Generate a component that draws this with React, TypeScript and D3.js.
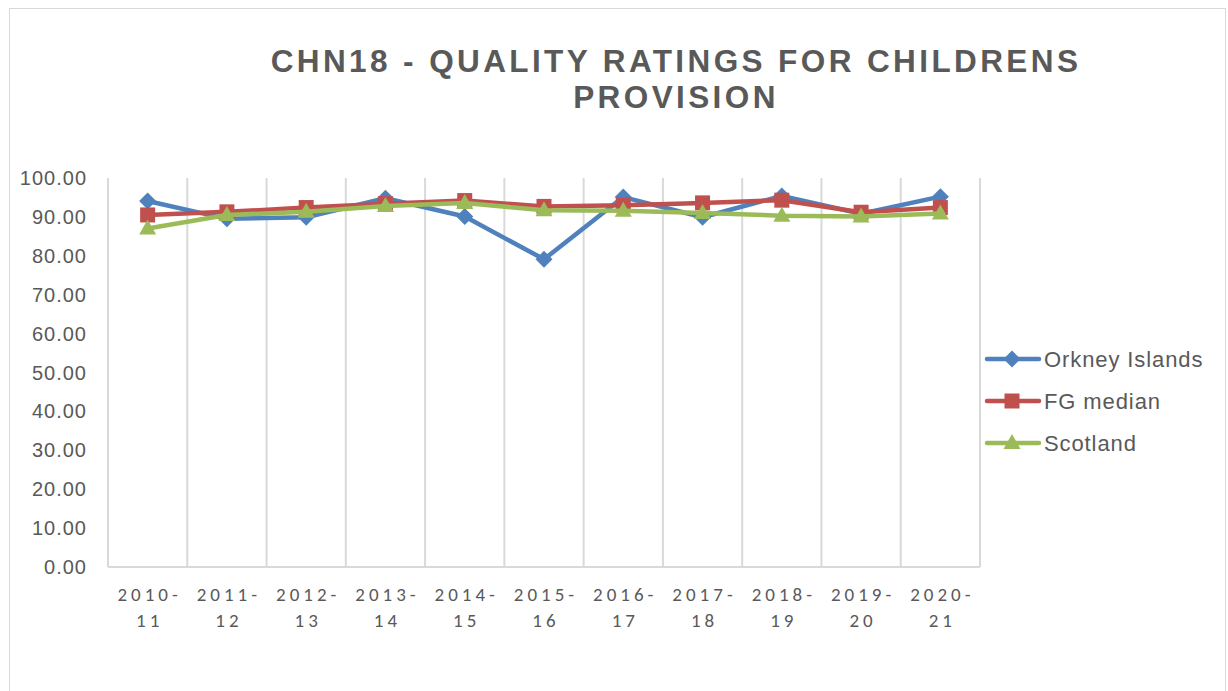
import React from "react";
import * as d3 from "d3";

const categories = ["2010-11", "2011-12", "2012-13", "2013-14", "2014-15", "2015-16", "2016-17", "2017-18", "2018-19", "2019-20", "2020-21"];
const orkney = [94.1, 89.5, 89.9, 94.8, 90.1, 79.1, 95.1, 89.9, 95.4, 90.8, 95.2];
const fgMedian = [90.5, 91.3, 92.4, 93.4, 94.2, 92.7, 93.0, 93.6, 94.3, 91.2, 92.4];
const scotland = [87.0, 90.5, 91.3, 92.8, 93.6, 91.7, 91.6, 91.0, 90.3, 90.1, 90.9];
const yTicks = [0, 10, 20, 30, 40, 50, 60, 70, 80, 90, 100];
const seriesNames = ["Orkney Islands", "FG median", "Scotland"];
const seriesColors = ["#4F81BD", "#C0504D", "#9BBB59"];
const titleLines = ["CHN18 - QUALITY RATINGS FOR CHILDRENS", "PROVISION"];

const W = 1228, H = 691;
const plot = { left: 108, right: 980, top: 178, bottom: 567 };

function Marker({ kind, x, y, color }: { kind: number; x: number; y: number; color: string }) {
  if (kind === 0) {
    const r = 8.5;
    return <path d={`M${x},${y - r}L${x + r},${y}L${x},${y + r}L${x - r},${y}Z`} fill={color} />;
  }
  if (kind === 1) {
    const s = 15;
    return <rect x={x - s / 2} y={y - s / 2} width={s} height={s} fill={color} />;
  }
  const h = 15, w = 17;
  return <path d={`M${x},${y - h * 0.6}L${x + w / 2},${y + h * 0.4}L${x - w / 2},${y + h * 0.4}Z`} fill={color} />;
}

export default function App() {
  const series = [orkney, fgMedian, scotland];
  const x = d3.scaleBand<string>().domain(categories).range([plot.left, plot.right]);
  const y = d3.scaleLinear().domain([0, 100]).range([plot.bottom, plot.top]);
  const cx = (c: string) => (x(c) as number) + x.bandwidth() / 2;
  const line = d3.line<number>().x((_, i) => cx(categories[i])).y((v) => y(v));
  const boundaries = categories.map((c) => x(c) as number).concat([plot.right]);

  return (
    <svg width={W} height={H} style={{ position: "absolute", left: 0, top: 0, display: "block", background: "#fff" }}
      fontFamily="'Liberation Sans', Arial, sans-serif">
      <rect x={9.5} y={8.5} width={1216} height={700} fill="#fff" stroke="#d9d9d9" strokeWidth={1} />
      {titleLines.map((t, i) => (
        <text key={i} x={676} y={72 + i * 36} textAnchor="middle" fontSize={31.5} fontWeight="bold" fill="#595959" letterSpacing={3.4}>
          {t}
        </text>
      ))}
      {boundaries.map((b, i) => (
        <line key={i} x1={b} x2={b} y1={plot.top} y2={plot.bottom} stroke="#d9d9d9" strokeWidth={2} />
      ))}
      <line x1={plot.left} x2={plot.right} y1={plot.bottom} y2={plot.bottom} stroke="#d9d9d9" strokeWidth={2} />
      {yTicks.map((t) => (
        <text key={t} x={87} y={y(t) + 7} textAnchor="end" fontSize={20} fill="#595959" letterSpacing={1}>
          {t.toFixed(2)}
        </text>
      ))}
      {categories.map((c) => {
        const [a, b] = c.split("-");
        return (
          <g key={c} fontFamily="Carlito, 'Open Sans', sans-serif" fontSize={19} fill="#595959" letterSpacing={4}>
            <text x={cx(c) + 2} y={601} textAnchor="middle">{a + "-"}</text>
            <text x={cx(c) + 2} y={627} textAnchor="middle">{b}</text>
          </g>
        );
      })}
      {series.map((s, k) => (
        <g key={k}>
          <path d={line(s) as string} fill="none" stroke={seriesColors[k]} strokeWidth={4.5} strokeLinejoin="round" strokeLinecap="round" />
          {s.map((v, i) => (
            <Marker key={i} kind={k} x={cx(categories[i])} y={y(v)} color={seriesColors[k]} />
          ))}
        </g>
      ))}
      {seriesNames.map((n, k) => {
        const ly = 359 + k * 42;
        return (
          <g key={n}>
            <line x1={987} x2={1039} y1={ly} y2={ly} stroke={seriesColors[k]} strokeWidth={4.5} strokeLinecap="round" />
            <Marker kind={k} x={1012} y={ly} color={seriesColors[k]} />
            <text x={1044} y={ly + 8} fontSize={22} fill="#595959" letterSpacing={0.9}>{n}</text>
          </g>
        );
      })}
    </svg>
  );
}
